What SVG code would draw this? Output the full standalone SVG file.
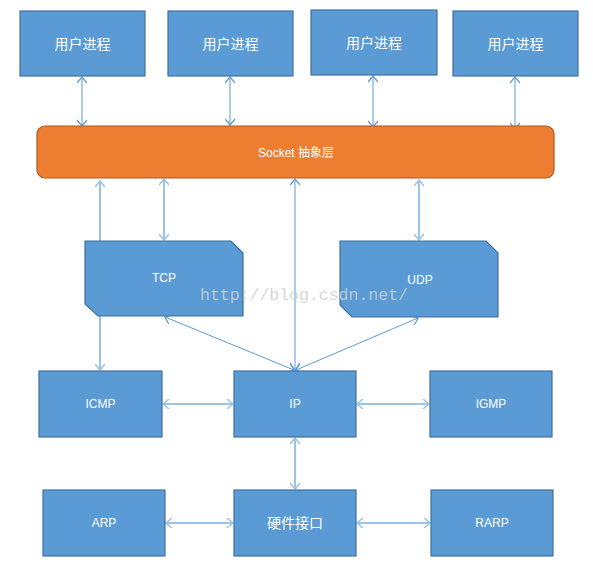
<svg xmlns="http://www.w3.org/2000/svg" width="593" height="567" viewBox="0 0 593 567">
<style>
.box{fill:#5B9BD5;stroke:#41719C;stroke-width:1.2}
.t{fill:#fff;font-family:"Liberation Sans","Noto Sans CJK SC",sans-serif;font-size:12px;text-anchor:middle;dominant-baseline:central}
.cn{font-size:14px}
.thin{stroke:#5B9BD5;stroke-width:1;fill:none}
.thick{stroke:#9DC3E6;stroke-width:2;fill:none}
</style>
<defs>
<marker id="a" viewBox="0 0 10 10" refX="9" refY="5" markerWidth="10" markerHeight="10" markerUnits="userSpaceOnUse" orient="auto-start-reverse">
<path d="M3,0 L9,5 L3,10" fill="none" stroke="#5B9BD5" stroke-width="1.2"/>
</marker>
<marker id="b" viewBox="0 0 10 10" refX="9" refY="5" markerWidth="10" markerHeight="10" markerUnits="userSpaceOnUse" orient="auto-start-reverse">
<path d="M3,0 L9,5 L3,10" fill="none" stroke="#9DC3E6" stroke-width="1.5"/>
</marker>
</defs>
<rect width="593" height="567" fill="#fff"/>
<g id="connectors">
<line class="thin" x1="82" y1="77" x2="82" y2="126" marker-start="url(#a)" marker-end="url(#a)"/>
<line class="thin" x1="230" y1="77" x2="230" y2="125" marker-start="url(#a)" marker-end="url(#a)"/>
<line class="thin" x1="373" y1="76" x2="373" y2="127" marker-start="url(#a)" marker-end="url(#a)"/>
<line class="thin" x1="515" y1="77" x2="515" y2="129" marker-start="url(#a)" marker-end="url(#a)"/>
<line class="thick" x1="100" y1="181" x2="100" y2="370" marker-start="url(#b)" marker-end="url(#b)"/>
<line class="thick" x1="164" y1="179" x2="164" y2="240" marker-start="url(#b)" marker-end="url(#b)"/>
<line class="thin" x1="295" y1="179" x2="295" y2="370" marker-start="url(#a)" marker-end="url(#a)"/>
<line class="thick" x1="419" y1="180" x2="419" y2="240" marker-start="url(#b)" marker-end="url(#b)"/>
<line class="thin" x1="165" y1="317" x2="294" y2="370" marker-start="url(#a)" marker-end="url(#a)"/>
<line class="thin" x1="418" y1="318" x2="296" y2="370" marker-start="url(#a)" marker-end="url(#a)"/>
<line class="thick" x1="163" y1="404" x2="233" y2="404" marker-start="url(#b)" marker-end="url(#b)"/>
<line class="thick" x1="357" y1="404" x2="429" y2="404" marker-start="url(#b)" marker-end="url(#b)"/>
<line class="thick" x1="295" y1="438" x2="295" y2="489" marker-start="url(#b)" marker-end="url(#b)"/>
<line class="thick" x1="166" y1="523" x2="233" y2="523" marker-start="url(#b)" marker-end="url(#b)"/>
<line class="thick" x1="357" y1="523" x2="430" y2="523" marker-start="url(#b)" marker-end="url(#b)"/>
</g>
<g id="u1"><rect class="box" x="20" y="11" width="125" height="65"/><text class="t cn" x="82.5" y="44">用户进程</text></g>
<g id="u2"><rect class="box" x="168" y="11" width="125" height="65"/><text class="t cn" x="230.5" y="44">用户进程</text></g>
<g id="u3"><rect class="box" x="311" y="10" width="126" height="65"/><text class="t cn" x="374" y="43">用户进程</text></g>
<g id="u4"><rect class="box" x="453" y="11" width="125" height="65"/><text class="t cn" x="515.5" y="44">用户进程</text></g>
<g id="socket"><rect x="37" y="126" width="517" height="52" rx="8" fill="#ED7D31" stroke="#AE5A21" stroke-width="1.2"/><text class="t" x="296" y="153">Socket 抽象层</text></g>
<g id="tcp"><polygon class="box" points="85,241 231,241 243,253 243,316 98,316 85,304"/><text class="t" x="164" y="278">TCP</text></g>
<g id="udp"><polygon class="box" points="340,241 486,241 498,253 498,317 352,317 340,305"/><text class="t" x="420" y="280">UDP</text></g>
<g id="icmp"><rect class="box" x="39" y="371" width="123" height="66"/><text class="t" x="100.5" y="404">ICMP</text></g>
<g id="ip"><rect class="box" x="234" y="371" width="122" height="66"/><text class="t" x="295" y="404">IP</text></g>
<g id="igmp"><rect class="box" x="430" y="371" width="122" height="66"/><text class="t" x="491" y="404">IGMP</text></g>
<g id="arp"><rect class="box" x="43" y="490" width="122" height="66"/><text class="t" x="104" y="523">ARP</text></g>
<g id="hw"><rect class="box" x="234" y="490" width="122" height="66"/><text class="t cn" x="295" y="523">硬件接口</text></g>
<g id="rarp"><rect class="box" x="431" y="490" width="122" height="66"/><text class="t" x="492" y="523">RARP</text></g>
<text x="200" y="300" font-family="Liberation Mono,monospace" font-size="16.5" fill="#d0d0d0" fill-opacity="0.85">http://blog.csdn.net/</text>
</svg>
